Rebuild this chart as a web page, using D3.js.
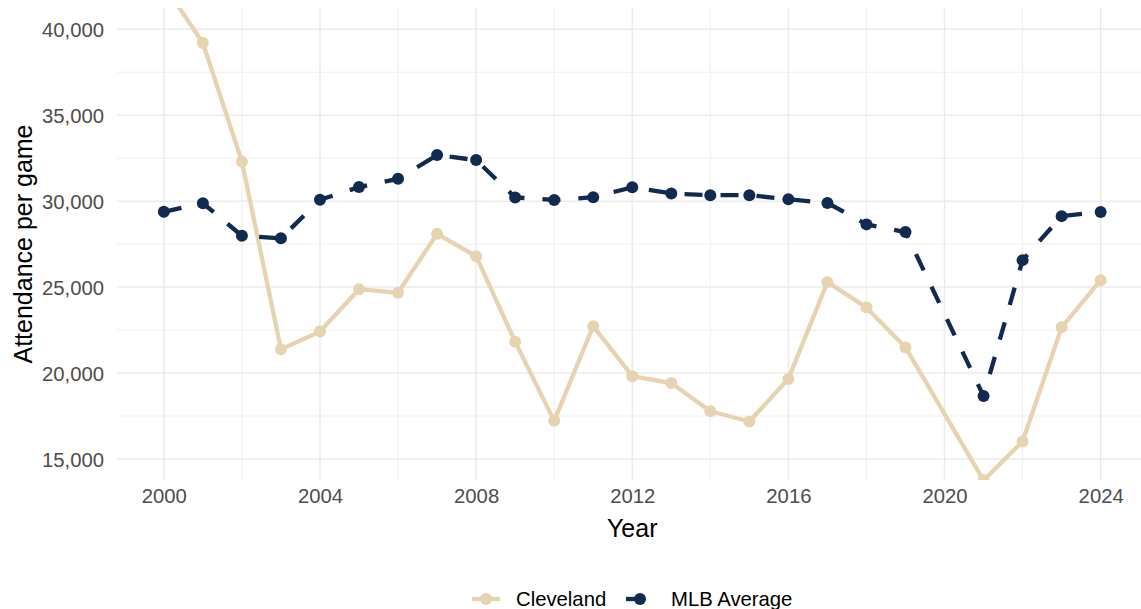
<!DOCTYPE html>
<html>
<head>
<meta charset="utf-8">
<script src="https://cdn.jsdelivr.net/npm/d3@7"></script>
<style>
  html, body { margin: 0; padding: 0; background: #fff; }
  svg { display: block; font-family: "Liberation Sans", Arial, Helvetica, sans-serif; }
</style>
</head>
<body>
<svg id="chart" width="1141" height="609"></svg>
<script>
// ---------- data ----------
var years = [2000, 2001, 2002, 2003, 2004, 2005, 2006, 2007, 2008, 2009, 2010, 2011, 2012,
  2013, 2014, 2015, 2016, 2017, 2018, 2019, 2021, 2022, 2023, 2024];
var cleveland = [42600, 39200, 32300, 21380, 22420, 24880, 24670, 28100, 26800, 21820, 17220, 22730, 19820,
  19420, 17780, 17180, 19660, 25290, 23820, 21490, 13760, 16020, 22660, 25400];
var mlbAverage = [29380, 29880, 27990, 27840, 30080, 30820, 31300, 32680, 32390, 30220, 30070, 30230, 30810,
  30450, 30350, 30350, 30110, 29900, 28650, 28200, 18660, 26570, 29130, 29370];
var seriesNames = ["Cleveland", "MLB Average"];
var yTicks = [15000, 20000, 25000, 30000, 35000, 40000];
var yMinor = [17500, 22500, 27500, 32500, 37500];
var xTicks = [2000, 2004, 2008, 2012, 2016, 2020, 2024];
var xMinor = [2002, 2006, 2010, 2014, 2018, 2022];

var colors = { "Cleveland": "#E6D4B1", "MLB Average": "#112A4F" };
var dashes = { "Cleveland": null, "MLB Average": "18,18" };

// ---------- layout ----------
var svg = d3.select("#chart");
var P = { l: 117, r: 1147.5, t: 8, b: 480 };
var x = d3.scaleLinear().domain([1998.8, 2025.2]).range([P.l, P.r]);
var y = d3.scaleLinear().domain([13778, 41239]).range([P.b, P.t]);
var fmt = d3.format(",");

svg.append("defs").append("clipPath").attr("id", "panel")
  .append("rect").attr("x", P.l).attr("y", P.t).attr("width", P.r - P.l).attr("height", P.b - P.t);

// grid
var grid = svg.append("g");
function hline(sel, data, w) {
  sel.selectAll(null).data(data).enter().append("line")
    .attr("x1", P.l).attr("x2", P.r).attr("y1", function (d) { return y(d); }).attr("y2", function (d) { return y(d); })
    .attr("stroke", "#ebebeb").attr("stroke-width", w);
}
function vline(sel, data, w) {
  sel.selectAll(null).data(data).enter().append("line")
    .attr("y1", P.t).attr("y2", P.b).attr("x1", function (d) { return x(d); }).attr("x2", function (d) { return x(d); })
    .attr("stroke", "#ebebeb").attr("stroke-width", w);
}
hline(grid, yMinor, 0.8); vline(grid, xMinor, 0.8);
hline(grid, yTicks, 1.5); vline(grid, xTicks, 1.5);

// axes (ticks only, no domain line)
var yAxis = svg.append("g").attr("transform", "translate(" + P.l + ",0)")
  .call(d3.axisLeft(y).tickValues(yTicks).tickFormat(fmt).tickSize(0).tickPadding(13));
var xAxis = svg.append("g").attr("transform", "translate(0," + P.b + ")")
  .call(d3.axisBottom(x).tickValues(xTicks).tickFormat(d3.format("d")).tickSize(0).tickPadding(9));
[yAxis, xAxis].forEach(function (a) {
  a.select(".domain").remove();
  a.selectAll("text").attr("fill", "#4d4d4d").style("font-size", "20.3px").style("font-family", "Liberation Sans, Arial, sans-serif");
});
yAxis.selectAll("text").attr("dy", "0.36em");

// titles
svg.append("text").attr("x", (P.l + P.r) / 2).attr("y", 537).attr("text-anchor", "middle")
  .style("font-size", "25px").attr("fill", "#000").text("Year");
svg.append("text").attr("transform", "translate(32," + ((P.t + P.b) / 2) + ") rotate(-90)")
  .attr("text-anchor", "middle").style("font-size", "25px").attr("fill", "#000").text("Attendance per game");

// ---------- series ----------
var series = [
  { name: "Cleveland", values: cleveland },
  { name: "MLB Average", values: mlbAverage }
];
var plot = svg.append("g").attr("clip-path", "url(#panel)");
var line = d3.line().x(function (d) { return x(d.year); }).y(function (d) { return y(d.v); });
function pts(s) { return years.map(function (yr, i) { return { year: yr, v: s.values[i] }; }); }

series.forEach(function (s) {
  plot.append("path").datum(pts(s)).attr("d", line).attr("fill", "none")
    .attr("stroke", colors[s.name]).attr("stroke-width", 4.3)
    .attr("stroke-linejoin", "round").attr("stroke-linecap", "butt")
    .attr("stroke-dasharray", dashes[s.name]);
});
series.forEach(function (s) {
  plot.append("g").selectAll("circle").data(pts(s)).enter().append("circle")
    .attr("cx", function (d) { return x(d.year); }).attr("cy", function (d) { return y(d.v); })
    .attr("r", 6).attr("fill", colors[s.name]);
});

// ---------- legend (cut by the bottom edge, as in the reference) ----------
var legend = svg.append("g").attr("transform", "translate(0,599)");
var keyX = [472, 626];
seriesNames.forEach(function (n, i) {
  var g = legend.append("g").attr("transform", "translate(" + keyX[i] + ",0)");
  g.append("line").attr("x1", 0).attr("x2", 28).attr("y1", 0).attr("y2", 0)
    .attr("stroke", colors[n]).attr("stroke-width", 4.3).attr("stroke-dasharray", dashes[n]);
  g.append("circle").attr("cx", 14).attr("cy", 0).attr("r", 6).attr("fill", colors[n]);
  g.append("text").attr("x", i === 0 ? 44 : 45).attr("y", 0).attr("dy", "0.36em")
    .style("font-size", "20.3px").attr("fill", "#000").text(n);
});
</script>
</body>
</html>
